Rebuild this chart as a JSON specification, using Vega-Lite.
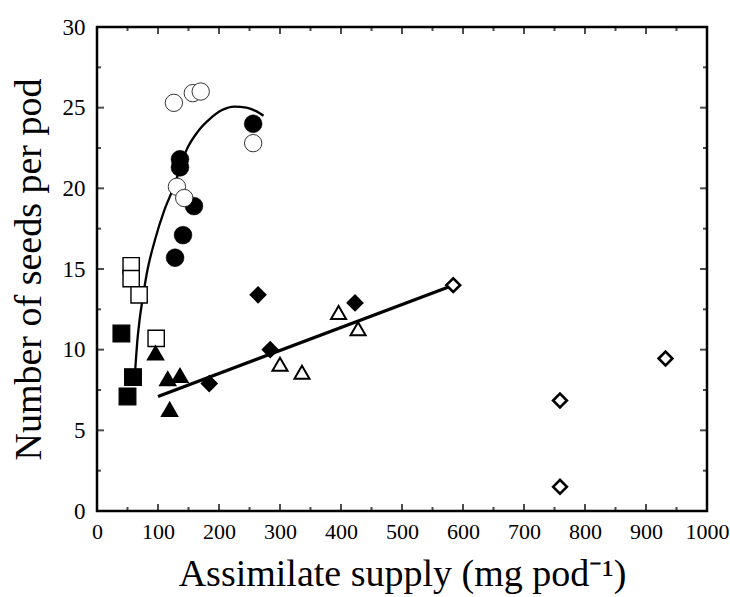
{
  "$schema": "https://vega.github.io/schema/vega-lite/v6.json",
  "width": 610,
  "height": 484,
  "autosize": "none",
  "padding": {"left": 97, "top": 27, "right": 23, "bottom": 86},
  "background": "white",
  "datasets": {
    "curve": [
      {"i": 1, "x": 62, "y": 8.4},
      {"i": 2, "x": 64, "y": 9.5},
      {"i": 3, "x": 66, "y": 10.5},
      {"i": 4, "x": 70, "y": 11.9},
      {"i": 5, "x": 75, "y": 13.2},
      {"i": 6, "x": 82, "y": 14.8},
      {"i": 7, "x": 95, "y": 16.8},
      {"i": 8, "x": 110, "y": 18.6},
      {"i": 9, "x": 125, "y": 20.0},
      {"i": 10, "x": 147, "y": 22.4},
      {"i": 11, "x": 165, "y": 23.5},
      {"i": 12, "x": 185, "y": 24.3},
      {"i": 13, "x": 205, "y": 24.85},
      {"i": 14, "x": 225, "y": 25.07},
      {"i": 15, "x": 245, "y": 25.0},
      {"i": 16, "x": 260, "y": 24.8},
      {"i": 17, "x": 273, "y": 24.5}
    ],
    "fit": [
      {"x": 100, "y": 7.1},
      {"x": 584, "y": 14.0}
    ],
    "xmaj": [{"v": 100}, {"v": 200}, {"v": 300}, {"v": 400}, {"v": 500}, {"v": 600}, {"v": 700}, {"v": 800}, {"v": 900}],
    "xmin": [{"v": 50}, {"v": 150}, {"v": 250}, {"v": 350}, {"v": 450}, {"v": 550}, {"v": 650}, {"v": 750}, {"v": 850}, {"v": 950}],
    "ymaj": [{"v": 5}, {"v": 10}, {"v": 15}, {"v": 20}, {"v": 25}],
    "ymin": [{"v": 2.5}, {"v": 7.5}, {"v": 12.5}, {"v": 17.5}, {"v": 22.5}, {"v": 27.5}],
    "pts": [
      {"g": "fc", "x": 256, "y": 24.0},
      {"g": "fc", "x": 136, "y": 21.8},
      {"g": "fc", "x": 136, "y": 21.3},
      {"g": "fc", "x": 159, "y": 18.9},
      {"g": "fc", "x": 141, "y": 17.1},
      {"g": "fc", "x": 128, "y": 15.7},
      {"g": "oc", "x": 126, "y": 25.3},
      {"g": "oc", "x": 157, "y": 25.9},
      {"g": "oc", "x": 170, "y": 26.0},
      {"g": "oc", "x": 256, "y": 22.8},
      {"g": "oc", "x": 131, "y": 20.1},
      {"g": "oc", "x": 143, "y": 19.4},
      {"g": "os", "x": 56, "y": 15.2},
      {"g": "os", "x": 56, "y": 14.4},
      {"g": "os", "x": 69, "y": 13.4},
      {"g": "os", "x": 97, "y": 10.7},
      {"g": "fs", "x": 40, "y": 11.0},
      {"g": "fs", "x": 59, "y": 8.3},
      {"g": "fs", "x": 50, "y": 7.1},
      {"g": "ft", "x": 96, "y": 9.8},
      {"g": "ft", "x": 116, "y": 8.2},
      {"g": "ft", "x": 136, "y": 8.4},
      {"g": "ft", "x": 119, "y": 6.3},
      {"g": "fd", "x": 264, "y": 13.4},
      {"g": "fd", "x": 184, "y": 7.9},
      {"g": "fd", "x": 284, "y": 10.0},
      {"g": "fd", "x": 423, "y": 12.9},
      {"g": "ot", "x": 396, "y": 12.3},
      {"g": "ot", "x": 428, "y": 11.3},
      {"g": "ot", "x": 300, "y": 9.1},
      {"g": "ot", "x": 336, "y": 8.6},
      {"g": "od", "x": 584, "y": 14.0},
      {"g": "od", "x": 759, "y": 6.85},
      {"g": "od", "x": 932, "y": 9.45},
      {"g": "od", "x": 759, "y": 1.5}
    ]
  },
  "layer": [
    {
      "data": {"name": "curve"},
      "mark": {"type": "line", "color": "black", "strokeWidth": 2.3, "interpolate": "monotone"},
      "encoding": {
        "x": {
          "field": "x", "type": "quantitative",
          "scale": {"domain": [0, 1000], "nice": false},
          "axis": {
            "orient": "bottom",
            "title": "Assimilate supply (mg pod⁻¹)",
            "values": [0,100,200,300,400,500,600,700,800,900,1000],
            "format": "d",
            "labelOverlap": false,
            "labelFlush": false,
            "labelFontSize": 22,
            "ticks": false,
            "tickSize": 0,
            "labelPadding": 10,
            "titlePadding": 13
          }
        },
        "y": {
          "field": "y", "type": "quantitative",
          "scale": {"domain": [0, 30], "nice": false},
          "axis": {
            "orient": "left",
            "title": "Number of seeds per pod",
            "values": [0,5,10,15,20,25,30],
            "labelOverlap": false,
            "labelFlush": false,
            "labelFontSize": 23,
            "ticks": false,
            "tickSize": 0,
            "labelPadding": 12,
            "titlePadding": 14
          }
        },
        "order": {"field": "i", "type": "quantitative"}
      }
    },
    {
      "data": {"name": "fit"},
      "mark": {"type": "line", "color": "black", "strokeWidth": 3.2},
      "encoding": {
        "x": {"field": "x", "type": "quantitative", "scale": {"domain": [0, 1000], "nice": false}, "axis": null},
        "y": {"field": "y", "type": "quantitative", "scale": {"domain": [0, 30], "nice": false}, "axis": null}
      }
    },
    {
      "data": {"name": "xmaj"},
      "mark": {"type": "tick", "orient": "vertical", "color": "black", "size": 7, "thickness": 2, "yOffset": -3.5},
      "encoding": {
        "x": {"field": "v", "type": "quantitative", "scale": {"domain": [0, 1000], "nice": false}, "axis": null},
        "y": {"datum": 0, "type": "quantitative", "scale": {"domain": [0, 30], "nice": false}, "axis": null}
      }
    },
    {
      "data": {"name": "xmaj"},
      "mark": {"type": "tick", "orient": "vertical", "color": "black", "size": 7, "thickness": 2, "yOffset": 3.5},
      "encoding": {
        "x": {"field": "v", "type": "quantitative", "scale": {"domain": [0, 1000], "nice": false}, "axis": null},
        "y": {"datum": 30, "type": "quantitative", "scale": {"domain": [0, 30], "nice": false}, "axis": null}
      }
    },
    {
      "data": {"name": "xmin"},
      "mark": {"type": "tick", "orient": "vertical", "color": "black", "size": 4, "thickness": 2, "yOffset": -2},
      "encoding": {
        "x": {"field": "v", "type": "quantitative", "scale": {"domain": [0, 1000], "nice": false}, "axis": null},
        "y": {"datum": 0, "type": "quantitative", "scale": {"domain": [0, 30], "nice": false}, "axis": null}
      }
    },
    {
      "data": {"name": "xmin"},
      "mark": {"type": "tick", "orient": "vertical", "color": "black", "size": 4, "thickness": 2, "yOffset": 2},
      "encoding": {
        "x": {"field": "v", "type": "quantitative", "scale": {"domain": [0, 1000], "nice": false}, "axis": null},
        "y": {"datum": 30, "type": "quantitative", "scale": {"domain": [0, 30], "nice": false}, "axis": null}
      }
    },
    {
      "data": {"name": "ymaj"},
      "mark": {"type": "tick", "orient": "horizontal", "color": "black", "size": 7, "thickness": 2, "xOffset": 3.5},
      "encoding": {
        "x": {"datum": 0, "type": "quantitative", "scale": {"domain": [0, 1000], "nice": false}, "axis": null},
        "y": {"field": "v", "type": "quantitative", "scale": {"domain": [0, 30], "nice": false}, "axis": null}
      }
    },
    {
      "data": {"name": "ymaj"},
      "mark": {"type": "tick", "orient": "horizontal", "color": "black", "size": 7, "thickness": 2, "xOffset": -3.5},
      "encoding": {
        "x": {"datum": 1000, "type": "quantitative", "scale": {"domain": [0, 1000], "nice": false}, "axis": null},
        "y": {"field": "v", "type": "quantitative", "scale": {"domain": [0, 30], "nice": false}, "axis": null}
      }
    },
    {
      "data": {"name": "ymin"},
      "mark": {"type": "tick", "orient": "horizontal", "color": "black", "size": 4, "thickness": 2, "xOffset": 2},
      "encoding": {
        "x": {"datum": 0, "type": "quantitative", "scale": {"domain": [0, 1000], "nice": false}, "axis": null},
        "y": {"field": "v", "type": "quantitative", "scale": {"domain": [0, 30], "nice": false}, "axis": null}
      }
    },
    {
      "data": {"name": "ymin"},
      "mark": {"type": "tick", "orient": "horizontal", "color": "black", "size": 4, "thickness": 2, "xOffset": -2},
      "encoding": {
        "x": {"datum": 1000, "type": "quantitative", "scale": {"domain": [0, 1000], "nice": false}, "axis": null},
        "y": {"field": "v", "type": "quantitative", "scale": {"domain": [0, 30], "nice": false}, "axis": null}
      }
    },
    {
      "data": {"name": "pts"},
      "mark": {"type": "point", "strokeWidth": 2.6, "opacity": 1, "filled": false},
      "encoding": {
        "x": {"field": "x", "type": "quantitative", "scale": {"domain": [0, 1000], "nice": false}, "axis": null},
        "y": {"field": "y", "type": "quantitative", "scale": {"domain": [0, 30], "nice": false}, "axis": null},
        "shape": {
          "field": "g", "type": "nominal", "legend": null,
          "scale": {
            "domain": ["fc","oc","fs","os","ft","ot","fd","od"],
            "range": ["circle","circle","square","square","triangle-up","triangle-up","diamond","diamond"]
          }
        },
        "fill": {
          "field": "g", "type": "nominal", "legend": null,
          "scale": {
            "domain": ["fc","oc","fs","os","ft","ot","fd","od"],
            "range": ["black","white","black","white","black","white","black","white"]
          }
        },
        "stroke": {"value": "black"},
        "size": {
          "field": "g", "type": "nominal", "legend": null,
          "scale": {
            "domain": ["fc","oc","fs","os","ft","ot","fd","od"],
            "range": [320, 190, 280, 190, 320, 170, 260, 150]
          }
        },
        "strokeWidth": {
          "field": "g", "type": "nominal", "legend": null,
          "scale": {
            "domain": ["fc","oc","fs","os","ft","ot","fd","od"],
            "range": [0.5, 2.6, 0.5, 2.6, 0.5, 3, 0.5, 3]
          }
        }
      }
    }
  ],
  "resolve": {"axis": {"x": "independent", "y": "independent"}},
  "config": {
    "view": {"stroke": "black", "strokeWidth": 2.5},
    "axis": {
      "domain": false,
      "grid": false,
      "labelFont": "Liberation Serif",
      "labelColor": "black",
      "titleFont": "Liberation Serif",
      "titleFontSize": 38,
      "titleFontWeight": "normal",
      "titleColor": "black"
    }
  }
}
